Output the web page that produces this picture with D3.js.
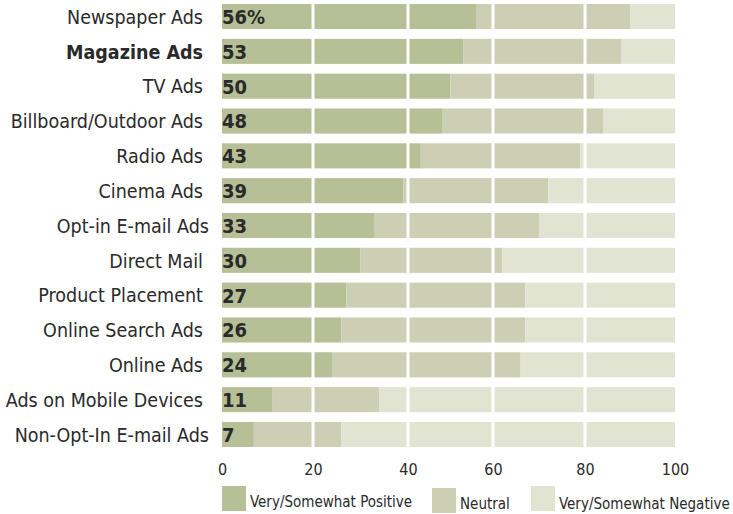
<!DOCTYPE html>
<html>
<head>
<meta charset="utf-8">
<script src="https://cdn.jsdelivr.net/npm/d3@7"></script>
<style>
  body { margin: 0; background: #fff; }
  svg text { font-family: "DejaVu Sans Condensed", "DejaVu Sans", sans-serif; fill: #2a2a2a; }
</style>
</head>
<body>
<svg width="733" height="514"></svg>
<script>
// categories top to bottom
var categories = ["Newspaper Ads", "Magazine Ads", "TV Ads", "Billboard/Outdoor Ads", "Radio Ads",
    "Cinema Ads", "Opt-in E-mail Ads", "Direct Mail", "Product Placement", "Online Search Ads",
    "Online Ads", "Ads on Mobile Devices", "Non-Opt-In E-mail Ads"];
var positive = [56, 53, 50, 48, 43, 39, 33, 30, 27, 26, 24, 11, 7];
var neutral  = [34, 35, 32, 36, 36, 33, 37, 32, 40, 41, 42, 23, 19];
var negative = [10, 12, 18, 16, 21, 28, 30, 38, 33, 33, 34, 66, 74];
var tickVals = [0, 20, 40, 60, 80, 100];
var seriesNames = ["Very/Somewhat Positive", "Neutral", "Very/Somewhat Negative"];
var colors = ["#b6bf95", "#cccfb3", "#e2e4d2"];

var svg = d3.select("svg");

// gridlines in the original are not evenly spaced, so use a piecewise scale
var x = d3.scaleLinear()
    .domain(tickVals)
    .range([222, 313, 408, 493, 585, 675]);

var y = d3.scaleBand()
    .domain(categories)
    .range([4, 447])
    .paddingInner(0.28);

var rows = categories.map(function (c, i) {
    return {cat: c, pos: positive[i], neu: neutral[i], neg: negative[i]};
});
var stack = d3.stack().keys(["pos", "neu", "neg"])(rows);

svg.append("g")
    .selectAll("g")
    .data(stack)
    .enter().append("g")
    .attr("fill", function (d, i) { return colors[i]; })
    .selectAll("rect")
    .data(function (d) { return d; })
    .enter().append("rect")
    .attr("x", function (d) { return x(d[0]); })
    .attr("width", function (d) { return x(d[1]) - x(d[0]); })
    .attr("y", function (d) { return y(d.data.cat); })
    .attr("height", y.bandwidth());

// white gridlines over the bars
svg.append("g")
    .selectAll("line")
    .data(tickVals.slice(1, -1))
    .enter().append("line")
    .attr("x1", function (d) { return x(d); })
    .attr("x2", function (d) { return x(d); })
    .attr("y1", 0)
    .attr("y2", 450)
    .attr("stroke", "#fff")
    .attr("stroke-width", 3);

// category labels (the two e-mail labels run a bit further right in the original)
svg.append("g")
    .selectAll("text")
    .data(categories)
    .enter().append("text")
    .attr("x", function (d) { return d.indexOf("E-mail") >= 0 ? 209 : 203; })
    .attr("y", function (d) { return y(d) + y.bandwidth() / 2; })
    .attr("dy", "0.37em")
    .attr("text-anchor", "end")
    .style("font-size", "19.5px")
    .style("font-weight", function (d) { return d == "Magazine Ads" ? "bold" : "normal"; })
    .text(function (d) { return d; });

// value labels
svg.append("g")
    .selectAll("text")
    .data(rows)
    .enter().append("text")
    .attr("x", 222)
    .attr("y", function (d) { return y(d.cat) + y.bandwidth() / 2; })
    .attr("dy", "0.37em")
    .style("font-size", "20px")
    .style("font-weight", "bold")
    .text(function (d, i) { return i == 0 ? d.pos + "%" : d.pos; });

// axis
var axis = svg.append("g")
    .attr("transform", "translate(0,460)")
    .call(d3.axisBottom(x).tickValues(tickVals).tickSize(0).tickPadding(4));
axis.select(".domain").remove();
axis.selectAll("text")
    .style("font-size", "16px")
    .style("font-family", "'DejaVu Sans Condensed', sans-serif")
    .attr("fill", "#333");

// legend (staggered like the original)
var legendPos = [{x: 222, y: 486, ty: 507}, {x: 432, y: 488, ty: 509}, {x: 531, y: 486, ty: 509}];
var legend = svg.append("g")
    .selectAll("g")
    .data(seriesNames)
    .enter().append("g");
legend.append("rect")
    .attr("x", function (d, i) { return legendPos[i].x; })
    .attr("y", function (d, i) { return legendPos[i].y; })
    .attr("width", 24)
    .attr("height", 25)
    .attr("fill", function (d, i) { return colors[i]; });
legend.append("text")
    .attr("x", function (d, i) { return legendPos[i].x + 28; })
    .attr("y", function (d, i) { return legendPos[i].ty; })
    .style("font-size", "15px")
    .text(function (d) { return d; });
</script>
</body>
</html>
